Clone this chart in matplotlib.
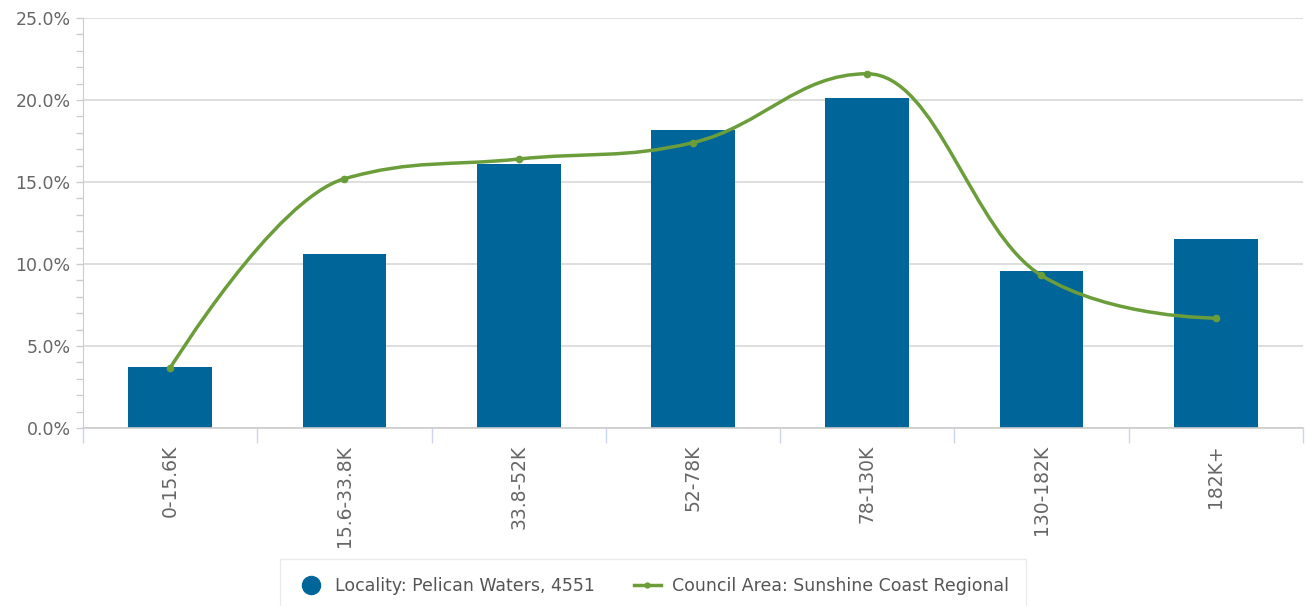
import matplotlib
matplotlib.use("Agg")
import matplotlib.pyplot as plt
from matplotlib.path import Path
from matplotlib.patches import PathPatch
from matplotlib.lines import Line2D
from matplotlib.ticker import FuncFormatter, MultipleLocator

# income bands and percentages
bands = ["0-15.6K", "15.6-33.8K", "33.8-52K", "52-78K", "78-130K", "130-182K", "182K+"]
locality = [3.7, 10.6, 16.1, 18.2, 20.1, 9.6, 11.5]
council = [3.66, 15.2, 16.4, 17.4, 21.6, 9.3, 6.7]

bar_col = "#006699"
line_col = "#6b9e3a"


def spline_path(xs, ys, smoothing=1.5):
    # highcharts-like spline: bezier control points from neighbours
    denom = smoothing + 1
    n = len(xs)
    left = [None] * n
    right = [None] * n
    for i in range(n):
        px, py = xs[i], ys[i]
        if i == 0 or i == n - 1:
            left[i] = (px, py)
            right[i] = (px, py)
            continue
        lx, ly = xs[i - 1], ys[i - 1]
        nx, ny = xs[i + 1], ys[i + 1]
        lcx = (smoothing * px + lx) / denom
        lcy = (smoothing * py + ly) / denom
        rcx = (smoothing * px + nx) / denom
        rcy = (smoothing * py + ny) / denom
        if rcx != lcx:
            corr = ((rcy - lcy) * (rcx - px)) / (rcx - lcx) + py - rcy
            lcy += corr
            rcy += corr
        if lcy > ly and lcy > py:
            lcy = max(ly, py)
            rcy = 2 * py - lcy
        elif lcy < ly and lcy < py:
            lcy = min(ly, py)
            rcy = 2 * py - lcy
        if rcy > ny and rcy > py:
            rcy = max(ny, py)
            lcy = 2 * py - rcy
        elif rcy < ny and rcy < py:
            rcy = min(ny, py)
            lcy = 2 * py - rcy
        left[i] = (lcx, lcy)
        right[i] = (rcx, rcy)
    verts = [(xs[0], ys[0])]
    codes = [Path.MOVETO]
    for i in range(1, n):
        verts += [right[i - 1], left[i], (xs[i], ys[i])]
        codes += [Path.CURVE4] * 3
    return Path(verts, codes)


fig = plt.figure(figsize=(13.06, 6.06), dpi=100)
ax = fig.add_axes([0.0636, 0.2937, 0.934, 0.6766])

x = list(range(len(bands)))
ax.bar(x, locality, width=0.48, color=bar_col, zorder=2)

path = spline_path(x, council)
ax.add_patch(PathPatch(path, facecolor="none", edgecolor=line_col, lw=2.5, zorder=3))
ax.plot(x, council, "o", color=line_col, ms=4.5, zorder=4)

ax.set_xlim(-0.5, len(bands) - 0.5)
ax.set_ylim(0, 25)
ax.yaxis.set_major_locator(MultipleLocator(5))
ax.yaxis.set_minor_locator(MultipleLocator(1))
ax.yaxis.set_major_formatter(FuncFormatter(lambda v, p: "%.1f%%" % v))
ax.grid(axis="y", color="#d8d8d8", lw=1.2, zorder=0)
ax.set_axisbelow(True)

ax.set_xticks(x)
ax.set_xticklabels(bands, rotation=90)
ax.set_xticks([i - 0.5 for i in range(len(bands) + 1)], minor=True)
ax.tick_params(axis="x", which="major", length=0, pad=12, labelsize=13.5, labelcolor="#666666")
ax.tick_params(axis="x", which="minor", length=11, color="#ccd6eb", width=1)
ax.tick_params(axis="y", which="both", length=5, color="#cccccc", width=1,
               labelsize=12.5, labelcolor="#666666", pad=4)

for s in ["top", "right"]:
    ax.spines[s].set_visible(False)
ax.spines["left"].set_color("#cccccc")
ax.spines["bottom"].set_color("#cccccc")
ax.spines["bottom"].set_linewidth(1.2)

handles = [
    Line2D([], [], marker="o", ls="none", color=bar_col, ms=13),
    Line2D([], [], marker="o", color=line_col, lw=2.5, ms=3.5),
]
labels = ["Locality: Pelican Waters, 4551", "Council Area: Sunshine Coast Regional"]
leg = fig.legend(handles, labels, loc="lower center", bbox_to_anchor=(0.5, -0.01), ncol=2,
                 frameon=True, fancybox=False, edgecolor="#e6e6e6", fontsize=12.5,
                 handlelength=1.6, columnspacing=2.2, borderpad=1.0, handletextpad=0.6,
                 borderaxespad=0.0)
for t in leg.get_texts():
    t.set_color("#555555")

fig.savefig("out.png", dpi=100)
